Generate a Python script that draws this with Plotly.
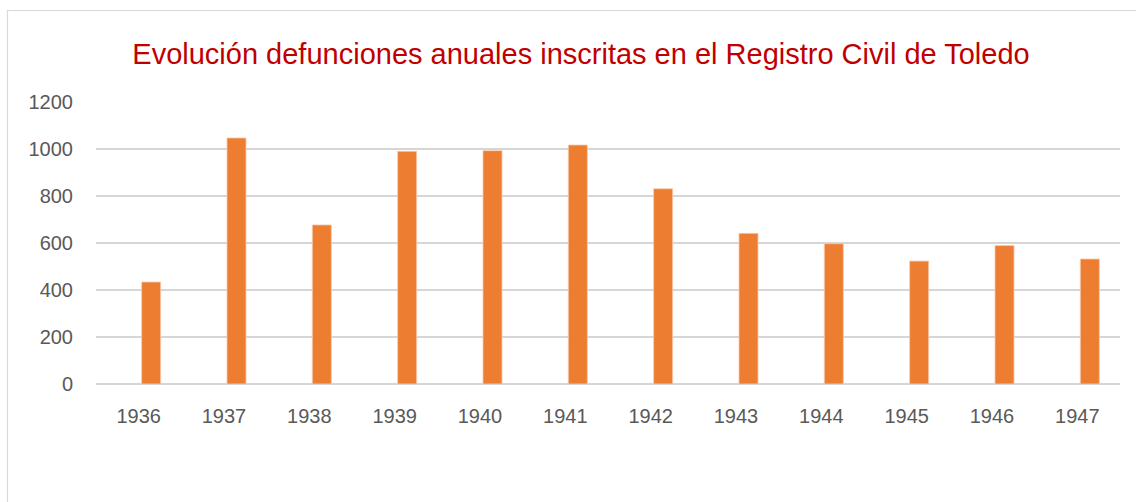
import plotly.graph_objects as go

years = ["1936", "1937", "1938", "1939", "1940", "1941", "1942", "1943", "1944", "1945", "1946", "1947"]
deaths = [434, 1047, 677, 990, 993, 1017, 831, 641, 597, 523, 589, 532]
y_ticks = [0, 200, 400, 600, 800, 1000, 1200]
title_text = "Evolución defunciones anuales inscritas en el Registro Civil de Toledo"

W, H = 1136, 502
L, R, T, B = 96, 16, 102, 118
pw, ph = W - L - R, H - T - B

def px_x(p):
    return (p - L) / pw

def px_y(p):
    return (H - B - p) / ph

fig = go.Figure(go.Bar(
    x=years, y=deaths,
    marker=dict(color="#ed7d31", line=dict(color="#f8cbad", width=0.8)),
    width=0.223, offset=0.035,
))

fig.update_layout(
    width=W, height=H,
    margin=dict(l=L, r=R, t=T, b=B),
    paper_bgcolor="white", plot_bgcolor="white",
    font=dict(family="Liberation Sans, Arial, sans-serif", color="#595959", size=20),
    showlegend=False,
    title=dict(text=title_text, x=581 / W, xref="container", xanchor="center",
               y=1 - 54 / H, yref="container", yanchor="middle",
               font=dict(size=29, color="#c00000", family="Liberation Sans, Arial, sans-serif")),
    xaxis=dict(showgrid=False, showline=False, ticks="", ticklabelstandoff=18,
               tickfont=dict(size=20)),
    yaxis=dict(range=[0, 1200], tickvals=y_ticks, showgrid=True, gridcolor="#d6d6d6",
               gridwidth=1.6, zeroline=True, zerolinecolor="#d6d6d6", zerolinewidth=1.6,
               showline=False, ticks="", ticklabelstandoff=22, tickfont=dict(size=20)),
    shapes=[
        dict(type="line", xref="paper", yref="paper", x0=px_x(7), x1=px_x(W), y0=px_y(10.5), y1=px_y(10.5),
             line=dict(color="#d9d9d9", width=1.2)),
        dict(type="line", xref="paper", yref="paper", x0=px_x(7.5), x1=px_x(7.5), y0=px_y(10.5), y1=px_y(H),
             line=dict(color="#d9d9d9", width=1.2)),
    ],
)

fig.write_html("out.html", config={"displayModeBar": False},
               post_script="document.body.style.margin='0px';document.body.style.overflow='hidden';")
